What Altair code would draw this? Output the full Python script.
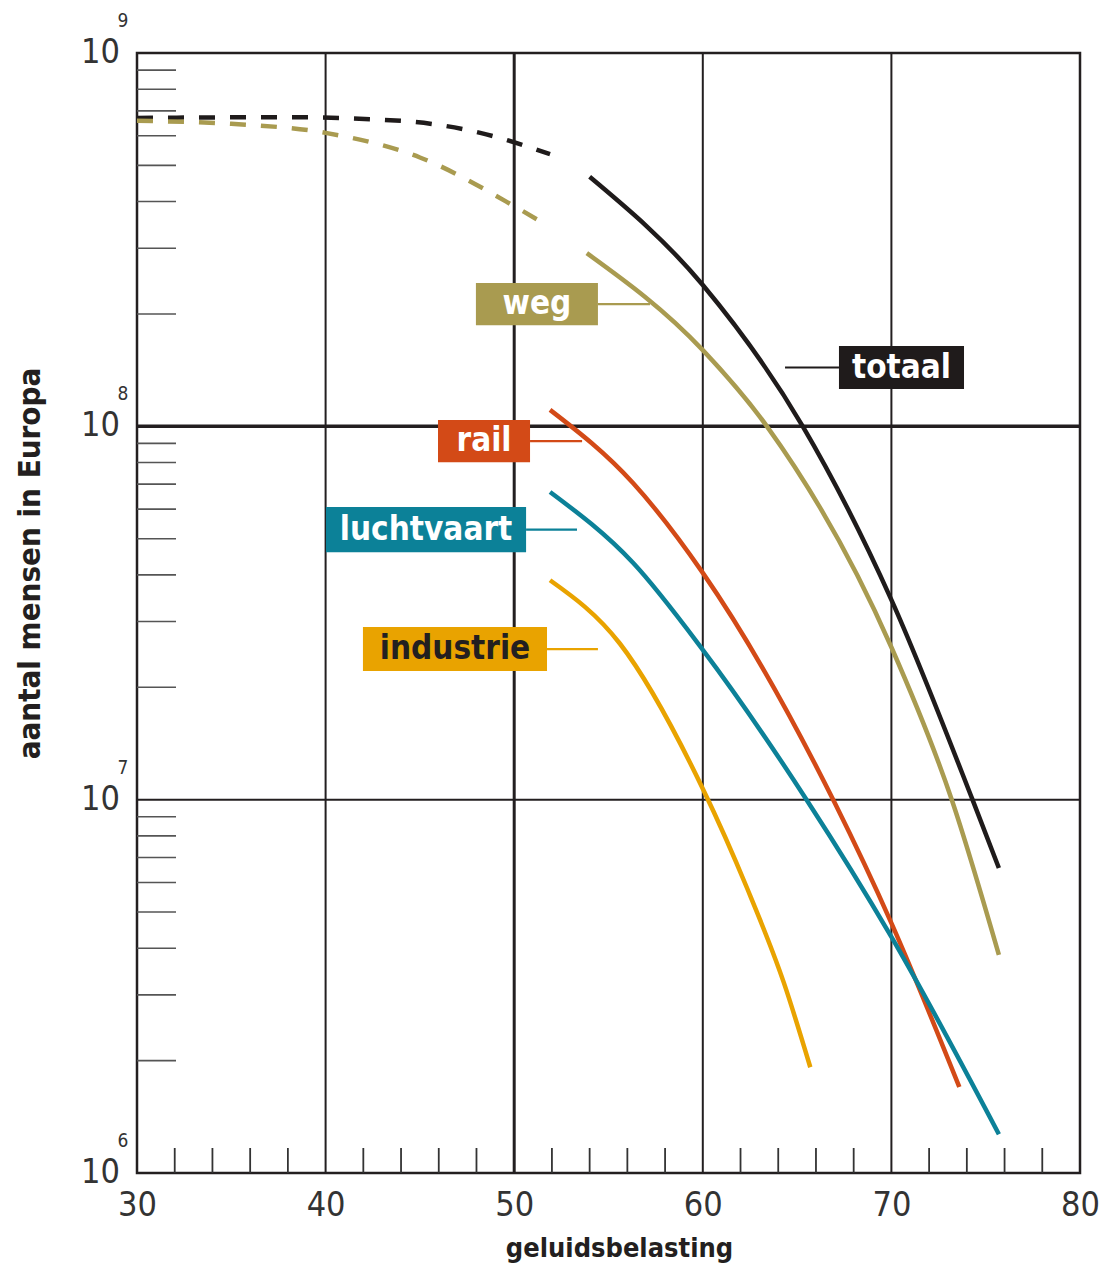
import altair as alt
import pandas as pd
import math

FONT = "DejaVu Sans Condensed, Liberation Sans Narrow, Roboto, sans-serif"

# ---------------- data ----------------
series_names = ["totaal", "weg", "rail", "luchtvaart", "industrie"]
series_colors = ["#1f1b1b", "#a99b50", "#d34a17", "#0c8198", "#e9a300"]

# dashed (estimated) parts
totaal_dash_x = [30, 38, 44, 48.2, 51.9]
totaal_dash_y = [6.70e8, 6.73e8, 6.58e8, 6.11e8, 5.36e8]
weg_dash_x = [30, 35, 40, 45, 50.15, 51.8]
weg_dash_y = [6.58e8, 6.46e8, 6.11e8, 5.25e8, 3.85e8, 3.44e8]

# solid parts
totaal_x = [54, 60, 65.3, 70, 74.3, 75.7]
totaal_y = [4.66e8, 2.39e8, 1.00e8, 3.43e7, 1.00e7, 6.56e6]
weg_x = [53.85, 60, 63.4, 70, 73.2, 75.7]
weg_y = [2.91e8, 1.60e8, 1.00e8, 2.56e7, 1.00e7, 3.84e6]
rail_x = [51.9, 56.3, 60, 67, 70, 73.6]
rail_y = [1.107e8, 7.05e7, 4.05e7, 9.79e6, 4.67e6, 1.70e6]
lucht_x = [51.9, 56.3, 60, 65.5, 70, 75.7]
lucht_y = [6.67e7, 4.31e7, 2.52e7, 1.00e7, 4.29e6, 1.27e6]
indus_x = [51.9, 55.6, 60, 62.35, 64.3, 65.7]
indus_y = [3.87e7, 2.62e7, 1.07e7, 5.79e6, 3.23e6, 1.92e6]

# axes
x_labels = [30, 40, 50, 60, 70, 80]
x_grid_thin = [40, 60, 70]
x_grid_thick = [50]
x_minor = [32, 34, 36, 38, 42, 44, 46, 48, 52, 54, 56, 58, 62, 64, 66, 68, 72, 74, 76, 78]
y_decades = [1e6, 1e7, 1e8, 1e9]
y_exponents = ["6", "7", "8", "9"]
y_grid_thin = [1e7]
y_grid_thick = [1e8]
y_minor = [m * d for d in [1e6, 1e7, 1e8] for m in range(2, 10)]

# label boxes (data units)
lab_names = ["weg", "totaal", "rail", "luchtvaart", "industrie"]
lab_x1 = [47.97, 67.22, 45.96, 40.02, 41.98]
lab_x2 = [54.44, 73.85, 50.84, 50.63, 51.74]
lab_top = [2.421e8, 1.641e8, 1.040e8, 6.081e7, 2.900e7]
lab_bot = [1.866e8, 1.259e8, 8.017e7, 4.603e7, 2.211e7]
lab_leader_end = [57.2, 64.36, 53.6, 53.33, 54.44]
lab_text_color = ["#ffffff", "#ffffff", "#ffffff", "#ffffff", "#231f20"]

# ---------------- tables ----------------
rows = []
def add(name, part, xs, ys):
    for x, y in zip(xs, ys):
        rows.append({"series": name, "part": part, "key": name + part, "x": x, "y": y})

add("totaal", "dash", totaal_dash_x, totaal_dash_y)
add("weg", "dash", weg_dash_x, weg_dash_y)
add("totaal", "solid", totaal_x, totaal_y)
add("weg", "solid", weg_x, weg_y)
add("rail", "solid", rail_x, rail_y)
add("luchtvaart", "solid", lucht_x, lucht_y)
add("industrie", "solid", indus_x, indus_y)
curves = pd.DataFrame(rows)

labels = pd.DataFrame({
    "series": lab_names,
    "bx1": lab_x1,
    "bx2": lab_x2,
    "btop": lab_top,
    "bbot": lab_bot,
    "lend": lab_leader_end,
    "tcolor": lab_text_color,
})
labels["ty"] = [math.sqrt(a * b) for a, b in zip(labels.btop, labels.bbot)]
labels["tx"] = (labels.bx1 + labels.bx2) / 2
labels["lstart"] = [b if e > b else a for a, b, e in zip(labels.bx1, labels.bx2, labels.lend)]

# ---------------- scales / axes ----------------
xs = alt.Scale(domain=[30, 80], nice=False)
ys = alt.Scale(type="log", domain=[1e6, 1e9], nice=False)
x_axis = alt.Axis(values=x_labels, ticks=False, tickSize=0, domain=False, grid=False,
                  labelFont=FONT, labelFontSize=34, labelColor="#333333", labelFlush=False,
                  labelBaseline="alphabetic", labelPadding=42,
                  title="geluidsbelasting", titleFont=FONT, titleFontSize=27,
                  titleFontWeight="bold", titleColor="#231f20",
                  titleX=482, titleY=83, titleBaseline="alphabetic", titleAlign="center")
y_axis = alt.Axis(labels=False, ticks=False, tickSize=0, domain=False, grid=False,
                  title="aantal mensen in Europa", titleFont=FONT, titleFontSize=31,
                  titleFontWeight="bold", titleColor="#231f20", titleAngle=270,
                  titleX=-98, titleY=510, titleBaseline="alphabetic", titleAlign="center")

def X(f="x"):
    return alt.X(f"{f}:Q", scale=xs, axis=x_axis)

def Y(f="y"):
    return alt.Y(f"{f}:Q", scale=ys, axis=y_axis)

color = alt.Color("series:N", scale=alt.Scale(domain=series_names, range=series_colors), legend=None)
GRID = "#231f20"

vg_thin = alt.Chart(pd.DataFrame({"x": x_grid_thin})).mark_rule(color=GRID, strokeWidth=2).encode(x=X())
vg_thick = alt.Chart(pd.DataFrame({"x": x_grid_thick})).mark_rule(color=GRID, strokeWidth=3).encode(x=X())
hg_thin = alt.Chart(pd.DataFrame({"y": y_grid_thin})).mark_rule(color=GRID, strokeWidth=2).encode(y=Y())
hg_thick = alt.Chart(pd.DataFrame({"y": y_grid_thick})).mark_rule(color=GRID, strokeWidth=3.5).encode(y=Y())

ymin = alt.Chart(pd.DataFrame({"y": y_minor})).mark_rule(color="#555555", strokeWidth=1.6).encode(
    y=Y(), x=alt.value(0), x2=alt.value(39))
xmin = alt.Chart(pd.DataFrame({"x": x_minor})).mark_rule(color="#333333", strokeWidth=1.8).encode(
    x=X(), y=alt.value(1095), y2=alt.value(1120))

ylab_df = pd.DataFrame({"y": y_decades, "base": ["10"] * 4, "exp": y_exponents})
ylab = alt.Chart(ylab_df).mark_text(align="right", baseline="alphabetic", dy=10, font=FONT,
                                     fontSize=34, color="#333333").encode(
    y=Y(), x=alt.value(-17), text="base:N")
yexp = alt.Chart(ylab_df).mark_text(align="center", baseline="alphabetic", dy=-26, font=FONT,
                                     fontSize=19, color="#333333").encode(
    y=Y(), x=alt.value(-14), text="exp:N")

dashed = alt.Chart(curves[curves.part == "dash"]).mark_line(
    strokeWidth=4.5, strokeDash=[16, 15], interpolate="monotone").encode(
    x=X(), y=Y(), color=color, detail="key:N", order="x:Q")
solid = alt.Chart(curves[curves.part == "solid"]).mark_line(
    strokeWidth=4.5, interpolate="monotone").encode(
    x=X(), y=Y(), color=color, detail="key:N", order="x:Q")

leaders = alt.Chart(labels).mark_rule(strokeWidth=2.2).encode(
    x=X("lstart"), x2="lend:Q", y=Y("ty"), color=color)
boxes = alt.Chart(labels).mark_rect().encode(
    x=X("bx1"), x2="bx2:Q", y=Y("btop"), y2="bbot:Q", color=color)
texts = alt.Chart(labels).mark_text(font=FONT, fontSize=33, fontWeight="bold",
                                    baseline="middle", align="center").encode(
    x=X("tx"), y=Y("ty"), text="series:N", color=alt.Color("tcolor:N", scale=None))

chart = alt.layer(
    vg_thin, vg_thick, hg_thin, hg_thick, ymin, xmin, ylab, yexp,
    dashed, solid, leaders, boxes, texts
).properties(
    width=943, height=1120,
    autosize=alt.AutoSizeParams(type="none"),
    padding={"left": 129, "top": 45, "right": 20, "bottom": 90},
).configure_view(stroke="#231f20", strokeWidth=2.5)

chart.save("out.html", embed_options={"renderer": "svg", "actions": False})
